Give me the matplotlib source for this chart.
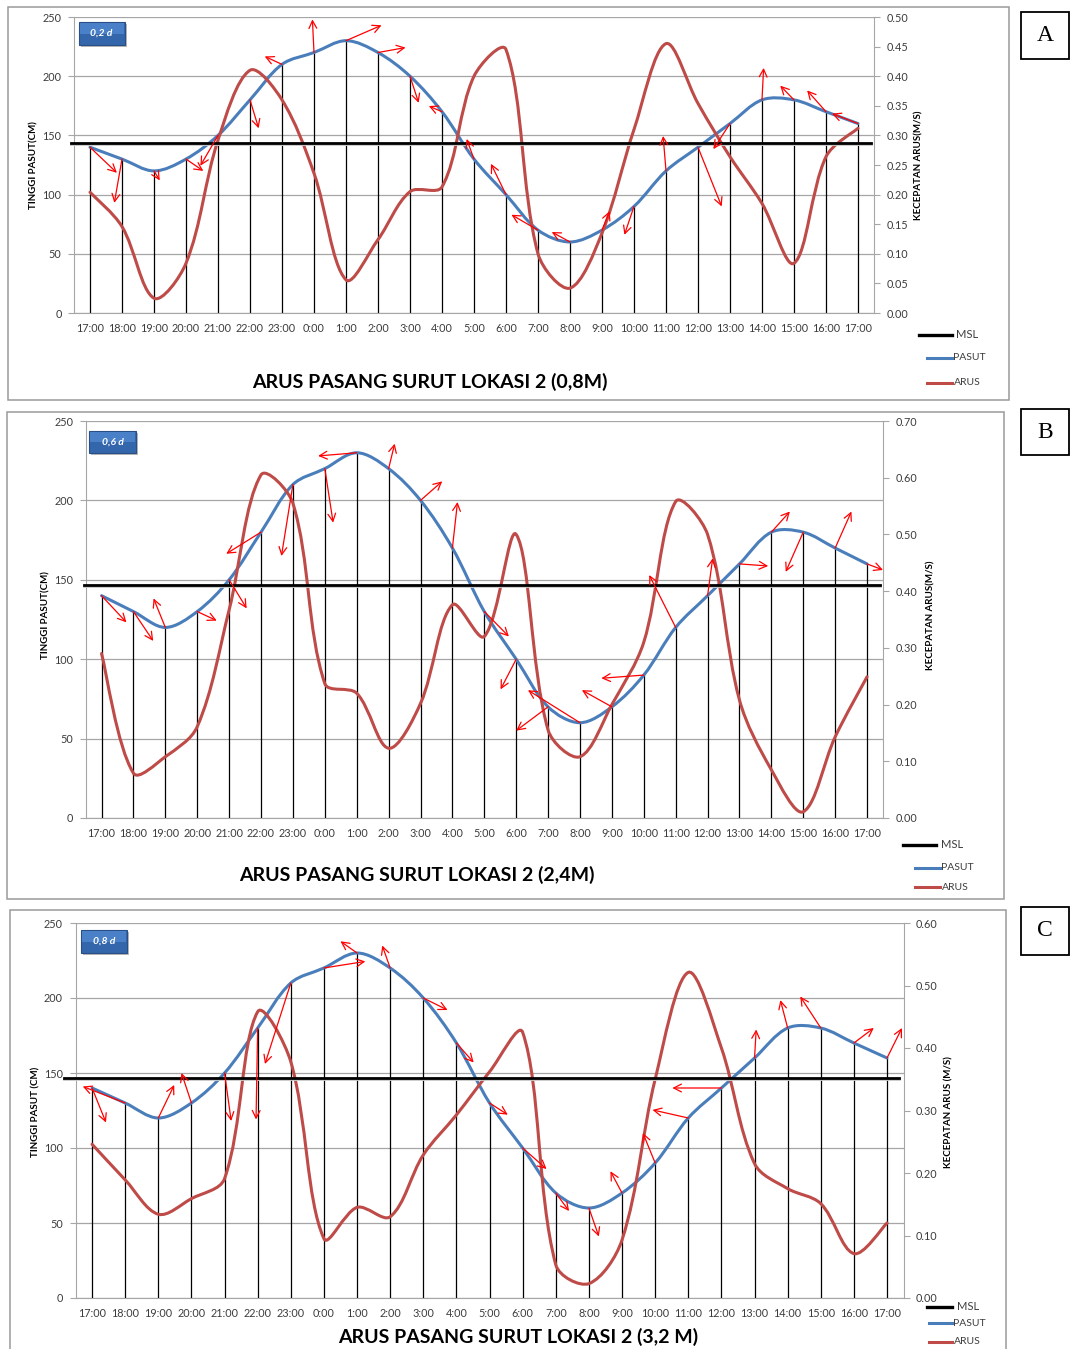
import numpy as np
import matplotlib.pyplot as plt
from matplotlib.path import Path
from matplotlib.patches import PathPatch, Rectangle
from matplotlib.lines import Line2D

plt.rcParams['font.family'] = ['Lato', 'DejaVu Sans']

W, H = 1072, 1349

# hours along the x axis (25 hourly readings, 17:00 to 17:00)
hours = ['17:00', '18:00', '19:00', '20:00', '21:00', '22:00', '23:00', '0:00',
         '1:00', '2:00', '3:00', '4:00', '5:00', '6:00', '7:00', '8:00', '9:00',
         '10:00', '11:00', '12:00', '13:00', '14:00', '15:00', '16:00', '17:00']

# tide height (cm), same for all three depths
pasut = [140, 130, 120, 130, 150, 180, 210, 220, 230, 220, 200, 170, 130,
         100, 70, 60, 70, 90, 120, 140, 160, 180, 180, 170, 160]

# current speed (m/s) at 0,2d / 0,6d / 0,8d
arus_a = [0.204, 0.146, 0.025, 0.084, 0.292, 0.41, 0.36, 0.236, 0.056, 0.124,
          0.205, 0.213, 0.40, 0.445, 0.10, 0.042, 0.135, 0.31, 0.455, 0.354,
          0.264, 0.185, 0.084, 0.264, 0.312]
arus_b = [0.29, 0.079, 0.108, 0.161, 0.367, 0.605, 0.555, 0.237, 0.22, 0.123,
          0.202, 0.376, 0.32, 0.5, 0.155, 0.108, 0.20, 0.31, 0.558, 0.50,
          0.208, 0.085, 0.011, 0.143, 0.249]
arus_c = [0.246, 0.189, 0.134, 0.159, 0.191, 0.458, 0.378, 0.095, 0.145, 0.13,
          0.229, 0.293, 0.362, 0.425, 0.053, 0.023, 0.093, 0.35, 0.521, 0.40,
          0.215, 0.175, 0.151, 0.071, 0.12]

# mean sea level (cm)
msl_a, msl_b, msl_c = 144, 147, 147

# current direction arrows: offset of the head from the tide point (hours, cm)
arrow_dx_a = [0.84, -0.24, 0.18, 0.54, -0.55, 0.27, -0.54, -0.05, 1.11, 0.86, 0.27, -0.41, -0.23,
              -0.47, -0.83, -0.57, 0.24, -0.30, -0.09, 0.74, -0.52, 0.05, -0.43, -0.59, -0.81]
arrow_dy_a = [-21.6, -37, -8, -10, -25.6, -24, 6.7, 28, 13, 4.2, -22.5, 4.8, 17,
              26, 13, 8.4, 16, -24, 29.5, -50, -21.6, 27, 12, 18, 8.4]
arrow_dx_b = [0.78, 0.62, -0.37, 0.61, 0.55, -1.09, -0.36, 0.26, -1.21, 0.19, 0.68, 0.16, 0.77,
              -0.49, -1.0, -1.63, -0.94, -1.33, -0.83, 0.16, 0.9, 0.58, -0.55, 0.51, 0.5]
arrow_dy_b = [-16.8, -18.5, 18.3, -5.7, -18, -13.6, -45, -34, -2, 15.7, 12, 29, -15.7,
              -19, -15, 20.5, 10.5, -2, 33, 23.5, -1.3, 13, -25, 23, -3.8]
arrow_dx_c = [0.42, -1.28, 0.48, -0.3, 0.2, -0.05, -0.78, 1.25, -0.5, -0.24, 0.73, 0.52, 0.55,
              0.72, 0.4, 0.3, -0.35, -0.37, -1.08, -1.48, 0.05, -0.22, -0.62, 0.6, 0.45]
arrow_dy_c = [-23, 11, 22, 20, -32, -61, -54, 4.4, 7.8, 15, -8, -13, -7.8,
              -14, -12, -19, 14.5, 20, 5.4, 0, 19, 18.6, 21, 10, 20]

BLUE = '#4a7ebb'
RED = '#be4b48'
GRID = '#a6a6a6'
TXT = '#3c3c3c'


def fx(x):
    return x / W


def fy(y):
    return 1 - y / H


def smooth_path(x, y, sx, sy):
    # excel-like smoothed line: bezier segments through the readings,
    # tangents weighted by the on-screen length of the neighbouring segments
    pts = np.column_stack([x, y]).astype(float)
    scr = pts * [sx, sy]
    d = np.hypot(*np.diff(scr, axis=0).T)
    n = len(pts)
    verts = [pts[0]]
    codes = [Path.MOVETO]
    for i in range(n - 1):
        a = pts[i - 1] if i > 0 else pts[i]
        b = pts[i + 2] if i + 2 < n else pts[i + 1]
        da = d[i - 1] if i > 0 else d[i]
        db = d[i + 1] if i + 2 < n else d[i]
        c1 = pts[i] + (pts[i + 1] - a) * d[i] / (3 * (da + d[i]))
        c2 = pts[i + 1] - (b - pts[i]) * d[i] / (3 * (d[i] + db))
        verts += [c1, c2, pts[i + 1]]
        codes += [Path.CURVE4] * 3
    return Path(verts, codes)


def panel(fig, box, frame, arus, msl, adx, ady, rmax, rstep, title, title_xy,
          ylab, ylab_x, rlab, rlab_x, lab_y, tag, tag_box, letter, letter_box,
          legend, msl_ext):
    x0, y0, x1, y1 = box
    ax = fig.add_axes([fx(x0), fy(y1), fx(x1 - x0), (y1 - y0) / H])
    ax2 = ax.twinx()
    x = np.arange(len(hours))
    sx = (x1 - x0) / len(hours)

    ax.set_xlim(-0.5, len(hours) - 0.5)
    ax.set_ylim(0, 250)
    ax.set_yticks(np.arange(0, 251, 50))
    ax.yaxis.grid(True, color=GRID, lw=0.9)
    ax.set_axisbelow(True)
    ax.set_xticks(x)
    ax.set_xticklabels(hours)
    ax.tick_params(axis='x', length=0, pad=7, labelsize=7.8, labelcolor=TXT)
    ax.tick_params(axis='y', length=4, color=GRID, pad=5, labelsize=7.8, labelcolor=TXT)
    for s in ['top', 'right']:
        ax.spines[s].set_visible(False)
    for s in ['left', 'bottom']:
        ax.spines[s].set_color(GRID)

    ax2.set_ylim(0, rmax)
    ax2.set_yticks(np.arange(0, rmax + 1e-9, rstep))
    ax2.set_yticklabels(['%.2f' % v for v in np.arange(0, rmax + 1e-9, rstep)])
    ax2.tick_params(axis='y', length=4, color=GRID, pad=5, labelsize=7.8, labelcolor=TXT)
    for s in ['top', 'left', 'bottom']:
        ax2.spines[s].set_visible(False)
    ax2.spines['right'].set_color(GRID)

    ax.vlines(x, 0, pasut, color='black', lw=0.9, zorder=2)
    ax.add_patch(PathPatch(smooth_path(x, pasut, sx, (y1 - y0) / 250), fill=False,
                           edgecolor=BLUE, lw=2.2, capstyle='round', zorder=3))
    ax2.add_patch(PathPatch(smooth_path(x, arus, sx, (y1 - y0) / rmax), fill=False,
                            edgecolor=RED, lw=2.2, capstyle='round', zorder=3))
    ax2.plot(msl_ext, [msl - 1.2, msl - 1.2], color='#c8c8c8', lw=2.0,
             transform=ax.transData, clip_on=False, zorder=4)
    ax2.plot(msl_ext, [msl, msl], color='black', lw=2.0, transform=ax.transData,
             clip_on=False, zorder=4)
    for i in range(len(hours)):
        ax2.annotate('', xy=(i + adx[i], pasut[i] + ady[i]), xytext=(i, pasut[i]),
                     xycoords=ax.transData, textcoords=ax.transData,
                     arrowprops=dict(arrowstyle='->,head_length=0.55,head_width=0.28',
                                     color='#ff0000', lw=0.9, shrinkA=0, shrinkB=0,
                                     mutation_scale=10), zorder=5)

    # outer frame
    fx0, fy0, fx1, fy1 = frame
    fig.add_artist(Rectangle((fx(fx0), fy(fy1)), fx(fx1 - fx0), (fy1 - fy0) / H,
                             transform=fig.transFigure, fill=False,
                             edgecolor='#9a9a9a', lw=1.1))
    fig.text(fx(title_xy[0]), fy(title_xy[1]), title, ha='center', va='center',
             fontsize=14, fontweight='bold', color='black')
    fig.text(fx(ylab_x), fy(lab_y), ylab, rotation=90, ha='center', va='center',
             fontsize=7, fontweight='bold', color='black')
    fig.text(fx(rlab_x), fy(lab_y), rlab, rotation=90, ha='center', va='center',
             fontsize=7, fontweight='bold', color='black')

    # depth tag
    tx0, ty0, tx1, ty1 = tag_box
    fig.add_artist(Rectangle((fx(tx0 + 2), fy(ty1 + 2)), fx(tx1 - tx0), (ty1 - ty0) / H,
                             transform=fig.transFigure, facecolor='#b8b8b8',
                             edgecolor='none'))
    fig.add_artist(Rectangle((fx(tx0), fy(ty1)), fx(tx1 - tx0), (ty1 - ty0) / H,
                             transform=fig.transFigure, facecolor='#3366aa',
                             edgecolor='#2a4f86', lw=0.8))
    fig.add_artist(Rectangle((fx(tx0 + 1), fy((ty0 + ty1) / 2)), fx(tx1 - tx0 - 2),
                             (ty1 - ty0) / 2 / H - 1 / H,
                             transform=fig.transFigure, facecolor='#4a80c8',
                             edgecolor='none'))
    fig.text(fx((tx0 + tx1) / 2), fy((ty0 + ty1) / 2), tag, ha='center', va='center',
             fontsize=7.5, fontweight='bold', fontstyle='italic', color='white')

    # letter box
    lx0, ly0, lx1, ly1 = letter_box
    fig.add_artist(Rectangle((fx(lx0), fy(ly1)), fx(lx1 - lx0), (ly1 - ly0) / H,
                             transform=fig.transFigure, fill=False,
                             edgecolor='black', lw=1.3))
    fig.text(fx((lx0 + lx1) / 2), fy((ly0 + ly1) / 2), letter, ha='center',
             va='center', fontsize=17, family='Liberation Serif')

    # legend
    (mx0, mx1, my), (px0, px1, py), (rx0, rx1, ry), tx = legend
    for (a, b, yy), col, lw, name in [((mx0, mx1, my), 'black', 2.4, 'MSL'),
                                      ((px0, px1, py), BLUE, 2.2, 'PASUT'),
                                      ((rx0, rx1, ry), RED, 2.2, 'ARUS')]:
        fig.add_artist(Line2D([fx(a), fx(b)], [fy(yy), fy(yy)], color=col, lw=lw,
                              transform=fig.transFigure))
        fig.text(fx(tx if name == 'MSL' else b + 1.5), fy(yy), name, ha='left',
                 va='center', fontsize=8 if name == 'MSL' else 7.5, color=TXT)


fig = plt.figure(figsize=(W / 100, H / 100), dpi=100)

panel(fig, (74, 17, 874, 313), (7.5, 7.5, 1008.5, 400), arus_a, msl_a,
      arrow_dx_a, arrow_dy_a, 0.5, 0.05,
      'ARUS PASANG SURUT LOKASI 2 (0,8M)', (430, 382),
      'TINGGI PASUT(CM)', 34, 'KECEPATAN ARUS(M/S)', 919, 165,
      '0,2 d', (78.5, 22, 124.7, 45), 'A', (1021, 12, 1069, 59),
      ((919, 952, 335), (927, 952, 358), (927, 952, 383), 956), (-0.6, 24.4))

panel(fig, (85.6, 421, 883, 818), (6.5, 411.7, 1003.5, 898.5), arus_b, msl_b,
      arrow_dx_b, arrow_dy_b, 0.7, 0.1,
      'ARUS PASANG SURUT LOKASI 2 (2,4M)', (417, 875),
      'TINGGI PASUT(CM)', 46, 'KECEPATAN ARUS(M/S)', 931, 615,
      '0,6 d', (89, 431, 136, 453), 'B', (1021, 409, 1069, 455),
      ((903, 936, 845), (915, 940, 868), (915, 940, 887), 941), (-0.55, 24.4))

panel(fig, (75.5, 923, 903.6, 1298), (10.3, 910, 1006, 1360), arus_c, msl_c,
      arrow_dx_c, arrow_dy_c, 0.6, 0.1,
      'ARUS PASANG SURUT LOKASI 2 (3,2 M)', (518, 1337),
      'TINGGI PASUT (CM)', 36, 'KECEPATAN ARUS (M/S)', 949, 1112,
      '0,8 d', (81, 930, 127, 953), 'C', (1021, 907, 1069, 955),
      ((927, 952, 1307), (929, 952, 1323), (929, 952, 1342), 957), (-0.85, 24.35))

fig.savefig('out.png', dpi=100)
